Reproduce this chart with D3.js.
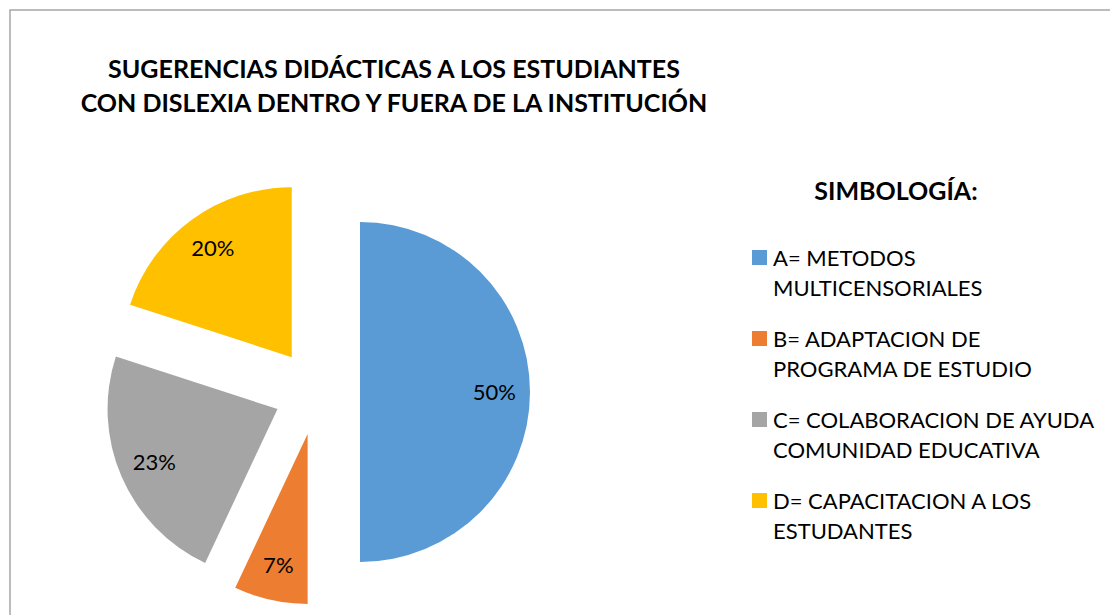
<!DOCTYPE html>
<meta charset="utf-8">
<style>
body { margin: 0; background: #fff; }
text { font-family: "Lato", "Open Sans", sans-serif; fill: #000; }
.title { font-weight: bold; font-size: 25px; }
.legtitle { font-weight: bold; font-size: 25px; }
.leg { font-size: 22px; }
.pct { font-size: 22px; }
</style>
<body>
<script src="https://d3js.org/d3.v7.min.js"></script>
<script>

var categories = ["A", "B", "C", "D"];
var values = [50, 7, 23, 20];
var labels = ["50%", "7%", "23%", "20%"];
var legendLines = [
  ["A= METODOS", "MULTICENSORIALES"],
  ["B= ADAPTACION DE", "PROGRAMA DE ESTUDIO"],
  ["C= COLABORACION DE AYUDA", "COMUNIDAD EDUCATIVA"],
  ["D= CAPACITACION A LOS", "ESTUDANTES"]
];
var colors = ["#5B9BD5", "#ED7D31", "#A5A5A5", "#FFC000"];

var width = 1110, height = 615;

var svg = d3.select("body").append("svg")
    .attr("width", width)
    .attr("height", height);

// chart border (only top and left visible in the picture)
svg.append("rect")
    .attr("x", 10).attr("y", 10)
    .attr("width", 1200).attr("height", 700)
    .attr("fill", "none")
    .attr("stroke", "#a6a6a6")
    .attr("stroke-width", 1.5);

var title = svg.append("text")
    .attr("class", "title")
    .attr("text-anchor", "middle");
title.append("tspan").attr("x", 394).attr("y", 78).text("SUGERENCIAS DIDÁCTICAS A LOS ESTUDIANTES");
title.append("tspan").attr("x", 394).attr("y", 112).text("CON DISLEXIA DENTRO Y FUERA DE LA INSTITUCIÓN");

// exploded pie
var cx = 317, cy = 392, r = 170, explode = 43;

var pie = d3.pie().sort(null).value(function(d) { return d; });
var arc = d3.arc().innerRadius(0).outerRadius(r);
var labelArc = d3.arc().innerRadius(r * 0.79).outerRadius(r * 0.79);

var slices = svg.append("g")
    .attr("transform", "translate(" + cx + "," + cy + ")")
    .selectAll("g")
    .data(pie(values))
    .enter().append("g")
    .attr("transform", function(d) {
      var a = (d.startAngle + d.endAngle) / 2;
      return "translate(" + (Math.sin(a) * explode) + "," + (-Math.cos(a) * explode) + ")";
    });

slices.append("path")
    .attr("d", arc)
    .attr("fill", function(d, i) { return colors[i]; });

slices.append("text")
    .attr("class", "pct")
    .attr("text-anchor", "middle")
    .attr("dy", "0.35em")
    .attr("transform", function(d) { return "translate(" + labelArc.centroid(d) + ")"; })
    .text(function(d, i) { return labels[i]; });

// legend
svg.append("text")
    .attr("class", "legtitle")
    .attr("text-anchor", "middle")
    .attr("x", 896).attr("y", 200)
    .text("SIMBOLOGÍA:");

var leg = svg.selectAll(".legitem")
    .data(categories)
    .enter().append("g")
    .attr("class", "legitem")
    .attr("transform", function(d, i) { return "translate(752," + (250 + i * 81) + ")"; });

leg.append("rect")
    .attr("width", 15).attr("height", 15)
    .attr("fill", function(d, i) { return colors[i]; });

leg.each(function(d, i) {
  var t = d3.select(this).append("text").attr("class", "leg");
  legendLines[i].forEach(function(line, j) {
    t.append("tspan").attr("x", 21).attr("y", 16 + j * 30).text(line);
  });
});

</script>
